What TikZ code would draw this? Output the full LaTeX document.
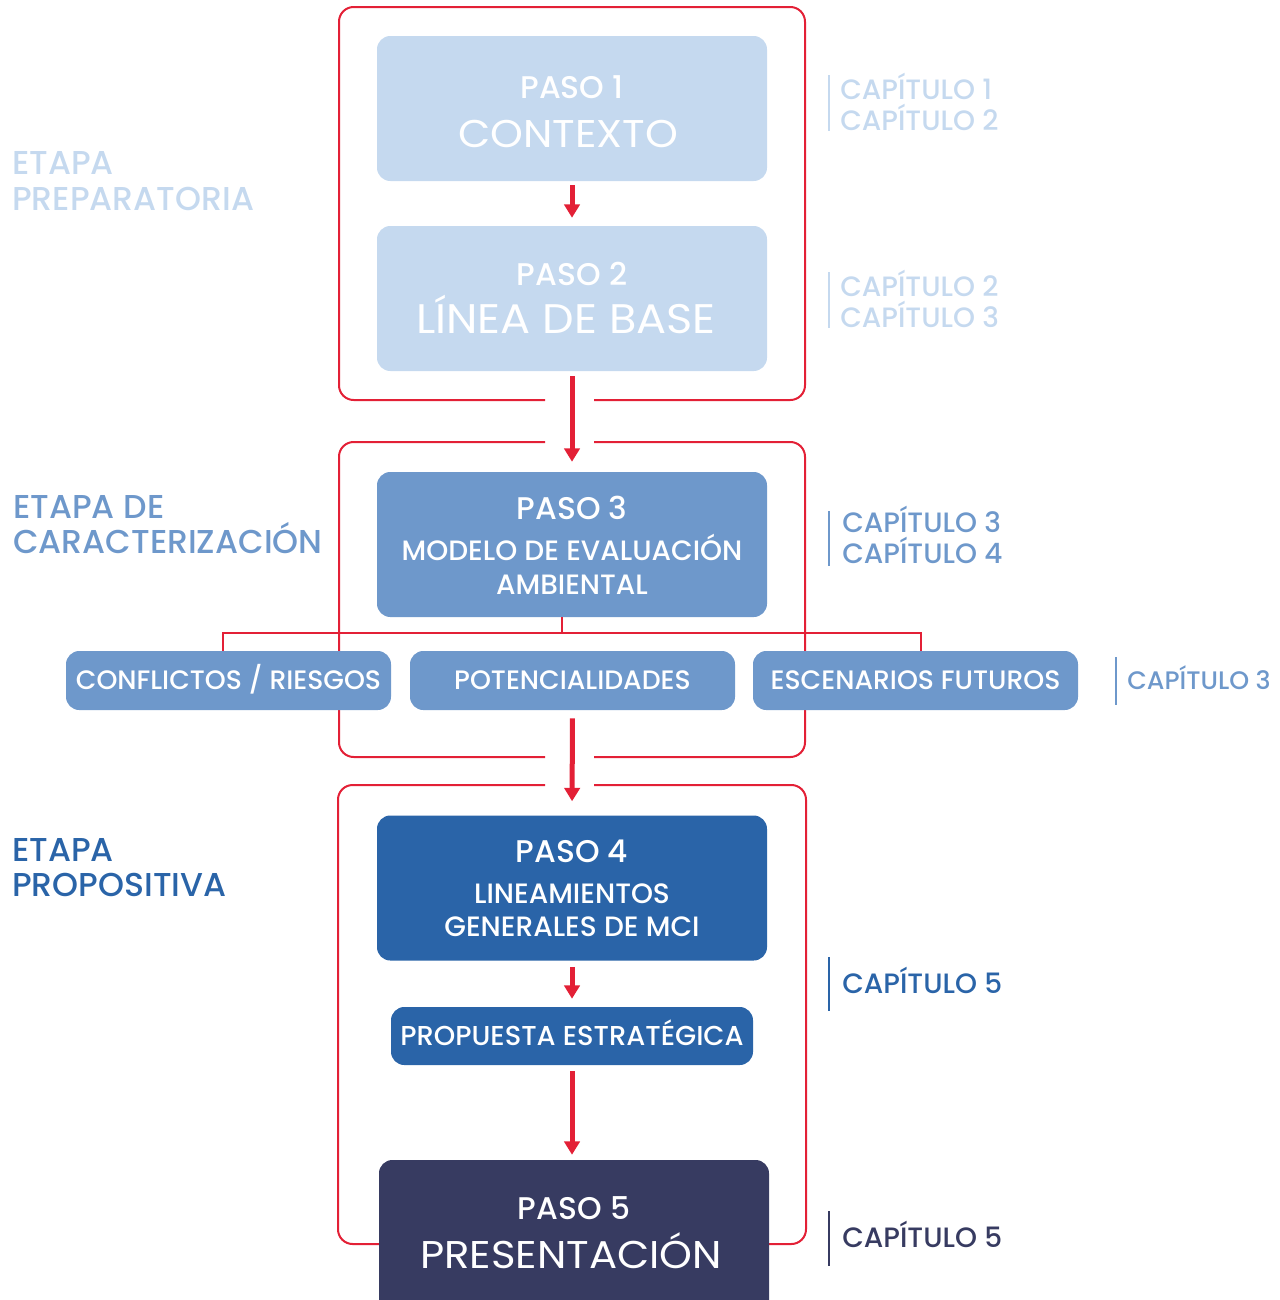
\documentclass[tikz,border=0pt]{standalone}
\usepackage{fontspec}
\setmainfont{Poppins Medium}
\newfontfamily\bigfnt{Poppins}[FakeStretch=1.08]
\usetikzlibrary{arrows.meta}
\definecolor{lb}{HTML}{C5D9EF}
\definecolor{mb}{HTML}{6E98CB}
\definecolor{db}{HTML}{2A64A8}
\definecolor{nv}{HTML}{373B61}
\definecolor{rd}{HTML}{E32036}
\newcommand\fsz[1]{\fontsize{#1}{#1}\selectfont}
\begin{document}
\begin{tikzpicture}[x=0.75pt,y=-0.75pt,
  bigbox/.style={rounded corners=10pt, minimum width=292.5pt, minimum height=108.75pt, inner sep=0pt},
  subbox/.style={rounded corners=10pt, minimum width=243.75pt, minimum height=44.25pt, inner sep=0pt, fill=mb},
  txt/.style={inner sep=0pt, font=\fsz{#1}, anchor=base, yshift={-0.35*#1pt}, text=white},
  bigtxt/.style={inner sep=0pt, font=\bigfnt\fsz{#1}, anchor=base, yshift={-0.35*#1pt}, text=white},
  lbl/.style={inner sep=0pt, font=\fsz{#1}, anchor=base west, yshift={-0.35*#1pt}},
  frame/.style={draw=rd, line width=1.5pt, rounded corners=11pt},
  arr/.style={draw=rd, line width=3.75pt, -{Triangle[length=10pt,width=11.5pt]}},
  conn/.style={draw=rd, line width=1.5pt},
  bar/.style={line width=1.3pt}
]
\useasboundingbox (0,0) rectangle (1280,1300);
\clip (0,0) rectangle (1280,1300);

% red frames
\draw[frame] (594,400) -| (805,7) -| (339,400) -- (545,400);
\draw[frame] (545,442) -| (339,757) -- (545,757);
\draw[frame] (594,442) -| (805,757) -- (594,757);
\draw[frame] (545,785) -| (338,1244) -- (574,1244);
\draw[frame] (594,785) -| (806,1244) -- (574,1244);

% boxes
\node[bigbox, fill=lb] (p1) at (572,108.5) {};
\node[bigbox, fill=lb] (p2) at (572,298.5) {};
\node[bigbox, fill=mb] (p3) at (572,544.5) {};
\node[subbox] (c1) at (228.5,680.5) {};
\node[subbox] (c2) at (572.5,680.5) {};
\node[subbox] (c3) at (915.5,680.5) {};
\node[bigbox, fill=db] (p4) at (572,888) {};
\node[rounded corners=10pt, minimum width=271.5pt, minimum height=43.5pt, inner sep=0pt, fill=db] (pe) at (572,1036) {};
\node[bigbox, fill=nv, minimum height=120pt] (p5) at (574,1240) {};

% box texts
\node[txt=23.5] at (572,88) {PASO 1};
\node[bigtxt=29] at (568,133.5) {CONTEXTO};
\node[txt=23.5] at (572,275) {PASO 2};
\node[bigtxt=31] at (566,319.5) {LÍNEA DE BASE};
\node[txt=23.5] at (572,509) {PASO 3};
\node[txt=21] at (572,551) {MODELO DE EVALUACIÓN};
\node[txt=21] at (572,585) {AMBIENTAL};
\node[txt=20] at (228.5,680.5) {CONFLICTOS / RIESGOS};
\node[txt=20] at (572.5,680.5) {POTENCIALIDADES};
\node[txt=20] at (915.5,680.5) {ESCENARIOS FUTUROS};
\node[txt=23.5] at (572,852) {PASO 4};
\node[txt=21] at (572,894) {LINEAMIENTOS};
\node[txt=21] at (572,927) {GENERALES DE MCI};
\node[txt=20.5] at (572,1036) {PROPUESTA ESTRATÉGICA};
\node[txt=23.5] at (574,1208.5) {PASO 5};
\node[bigtxt=29] at (571,1254.5) {PRESENTACIÓN};

% arrows
\draw[arr, shorten <=3pt, shorten >=6pt] (p1.south) -- (p2.north);
\draw[arr, shorten <=3.75pt, shorten >=7.5pt] (p2.south) -- (p3.north);
\draw[arr, shorten <=6pt, shorten >=10.5pt] (c2.south) -- (p4.north);
\draw[arr, shorten <=4.5pt, shorten >=6pt] (p4.south) -- (pe.north);
\draw[arr, shorten <=4.5pt, shorten >=3.75pt] (pe.south) -- (pe.south |- p5.north);

% connector
\coordinate (j) at (562,633);
\draw[conn] (p3.south -| j) -- (j);
\draw[conn] (c1.north -| 223,0) |- (j) -| (c3.north -| 921,0);

% stage labels
\node[lbl=24.8, text=lb] (s1a) at (12,163) {ETAPA};
\node[lbl=24.8, text=lb] (s1b) at (12,199) {PREPARATORIA};
\node[lbl=24.8, text=mb] (s2a) at (13,507) {ETAPA DE};
\node[lbl=24.8, text=mb] (s2b) at (13,542) {CARACTERIZACIÓN};
\node[lbl=24.8, text=db] (s3a) at (12,850) {ETAPA};
\node[lbl=24.8, text=db] (s3b) at (12,885) {PROPOSITIVA};

% chapter labels
\draw[bar, draw=lb] (829,75) -- (829,131);
\node[lbl=21, text=lb] at (840,90) {CAPÍTULO 1};
\node[lbl=21, text=lb] at (840,121) {CAPÍTULO 2};
\draw[bar, draw=lb] (829,272) -- (829,328);
\node[lbl=21, text=lb] at (840,287) {CAPÍTULO 2};
\node[lbl=21, text=lb] at (840,318) {CAPÍTULO 3};
\draw[bar, draw=mb] (829,511) -- (829,566);
\node[lbl=21, text=mb] at (842,523) {CAPÍTULO 3};
\node[lbl=21, text=mb] at (842,554) {CAPÍTULO 4};
\draw[bar, draw=mb] (1116,657) -- (1116,705);
\node[lbl=19, text=mb] at (1127,680.5) {CAPÍTULO 3};
\draw[bar, draw=db] (829,957) -- (829,1011);
\node[lbl=21, text=db] at (842,984) {CAPÍTULO 5};
\draw[bar, draw=nv] (829,1211) -- (829,1266);
\node[lbl=21, text=nv] at (842,1238) {CAPÍTULO 5};
\end{tikzpicture}
\end{document}
